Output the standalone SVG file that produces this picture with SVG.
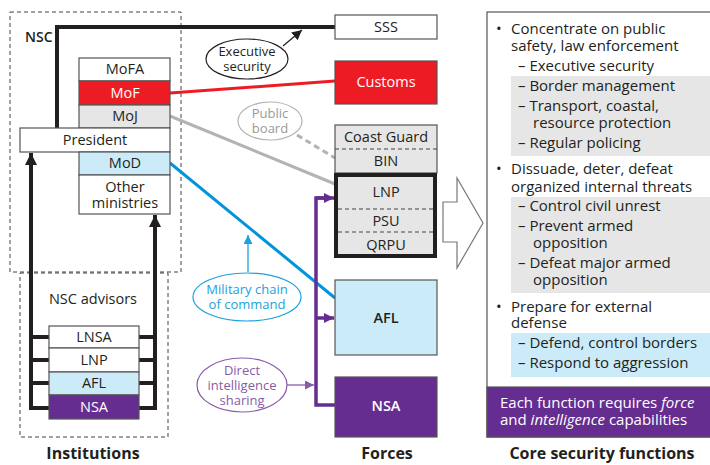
<svg xmlns="http://www.w3.org/2000/svg" width="710" height="465" viewBox="0 0 710 465">
<defs>
<style>
text{font-family:"Open Sans","Noto Sans","DejaVu Sans",sans-serif;fill:#231F20;}
.lbl{font-size:14.5px;text-anchor:middle;}
.w{fill:#fff;}
.sm{font-size:13px;text-anchor:middle;}
.ttl{font-size:16px;font-weight:bold;text-anchor:middle;}
.rt{font-size:15px;}
.box{stroke:#555;stroke-width:1.2;}
.dash{fill:none;stroke:#444;stroke-width:1;stroke-dasharray:4,3;}
.thick{fill:none;stroke:#231F20;stroke-width:4;}
</style>
<marker id="ab" viewBox="0 0 10 10" refX="10" refY="5" markerWidth="10" markerHeight="10" markerUnits="userSpaceOnUse" orient="auto"><path d="M0,0L10,5L0,10z" fill="#231F20"/></marker>
<marker id="abig" viewBox="0 0 10 10" refX="10" refY="5" markerWidth="3" markerHeight="3" orient="auto"><path d="M0,0L10,5L0,10z" fill="#231F20"/></marker>
<marker id="ap" viewBox="0 0 10 10" refX="10" refY="5" markerWidth="3" markerHeight="3" orient="auto"><path d="M0,0L10,5L0,10z" fill="#662D91"/></marker>
<marker id="apt" viewBox="0 0 10 10" refX="10" refY="5" markerWidth="9" markerHeight="9" markerUnits="userSpaceOnUse" orient="auto"><path d="M0,0L10,5L0,10z" fill="#8A5BA8"/></marker>
<marker id="abl" viewBox="0 0 10 10" refX="10" refY="5" markerWidth="9" markerHeight="9" markerUnits="userSpaceOnUse" orient="auto"><path d="M0,0L10,5L0,10z" fill="#1BA1DB"/></marker>
</defs>
<rect width="710" height="465" fill="#fff"/>

<g id="nsc-frame">
<rect x="10" y="12" width="171" height="260" class="dash"/>
<text x="25" y="42" style="font-size:14px;font-weight:600">NSC</text>
</g>
<g id="advisors-frame">
<rect x="20" y="273" width="148" height="164" class="dash"/>
<text x="93" y="304" class="lbl">NSC advisors</text>
</g>

<g id="connectors">
<polyline points="57,128 57,27 335,27" class="thick"/>
<line x1="283" y1="46" x2="302" y2="30" stroke="#231F20" stroke-width="1.2" marker-end="url(#ab)"/>
<line x1="170" y1="93" x2="335" y2="81" stroke="#ED1C24" stroke-width="3"/>
<line x1="170" y1="116" x2="335" y2="184" stroke="#B3B3B3" stroke-width="3"/>
<line x1="297" y1="135" x2="335" y2="158" stroke="#B3B3B3" stroke-width="3" stroke-dasharray="6,4"/>
<line x1="170" y1="163" x2="335" y2="298" stroke="#0095DA" stroke-width="3"/>
<line x1="248" y1="272" x2="248" y2="235" stroke="#1BA1DB" stroke-width="1.3" marker-end="url(#abl)"/>
<polyline points="335,405 316,405 316,198 326,198" fill="none" stroke="#662D91" stroke-width="3.5"/>
<line x1="316" y1="198" x2="334" y2="198" stroke="#662D91" stroke-width="3.5" marker-end="url(#ap)"/>
<line x1="316" y1="318" x2="334" y2="318" stroke="#662D91" stroke-width="3.5" marker-end="url(#ap)"/>
<line x1="287" y1="385" x2="314" y2="385" stroke="#8A5BA8" stroke-width="1.3" marker-end="url(#apt)"/>
<polyline points="49,408 31,408 31,165" class="thick"/>
<line x1="31" y1="166" x2="31" y2="153" stroke="#231F20" stroke-width="4" marker-end="url(#abig)"/>
<polyline points="139,408 155,408 155,226" class="thick"/>
<line x1="155" y1="228" x2="155" y2="215" stroke="#231F20" stroke-width="4" marker-end="url(#abig)"/>
<line x1="31" y1="337" x2="49" y2="337" class="thick"/>
<line x1="31" y1="360" x2="49" y2="360" class="thick"/>
<line x1="31" y1="383" x2="49" y2="383" class="thick"/>
<line x1="139" y1="337" x2="155" y2="337" class="thick"/>
<line x1="139" y1="360" x2="155" y2="360" class="thick"/>
<line x1="139" y1="383" x2="155" y2="383" class="thick"/>
</g>

<g id="MoFA"><rect x="79" y="58" width="91" height="23" fill="#fff" class="box"/><text x="125" y="74" class="lbl">MoFA</text></g>
<g id="MoF"><rect x="79" y="81" width="91" height="24" fill="#ED1C24" class="box"/><text x="125" y="98" class="lbl w">MoF</text></g>
<g id="MoJ"><rect x="79" y="105" width="91" height="23" fill="#E6E6E6" class="box"/><text x="125" y="121" class="lbl">MoJ</text></g>
<g id="President"><rect x="20" y="128" width="150" height="24" fill="#fff" class="box"/><text x="95" y="145" class="lbl">President</text></g>
<g id="MoD"><rect x="79" y="152" width="91" height="23" fill="#CCEBF8" class="box"/><text x="125" y="168" class="lbl">MoD</text></g>
<g id="Other"><rect x="79" y="175" width="91" height="39" fill="#fff" class="box"/><text x="125" y="192" class="lbl">Other</text><text x="125" y="208" class="lbl">ministries</text></g>

<g id="adv-LNSA"><rect x="49" y="326" width="90" height="22" fill="#fff" class="box"/><text x="94" y="342" class="lbl">LNSA</text></g>
<g id="adv-LNP"><rect x="49" y="348" width="90" height="24" fill="#fff" class="box"/><text x="94" y="365" class="lbl">LNP</text></g>
<g id="adv-AFL"><rect x="49" y="372" width="90" height="23" fill="#CCEBF8" class="box"/><text x="94" y="388" class="lbl">AFL</text></g>
<g id="adv-NSA"><rect x="49" y="395" width="90" height="24" fill="#662D91" class="box"/><text x="94" y="412" class="lbl w">NSA</text></g>

<g id="exec-security"><ellipse cx="247" cy="59" rx="41" ry="20" fill="#fff" stroke="#231F20" stroke-width="1.2"/><text x="247" y="56" class="sm">Executive</text><text x="247" y="71" class="sm">security</text></g>
<g id="public-board"><ellipse cx="270" cy="121" rx="32" ry="19" fill="#fff" stroke="#B3B3B3" stroke-width="1.2"/><text x="270" y="118" class="sm" style="fill:#999">Public</text><text x="270" y="133" class="sm" style="fill:#999">board</text></g>
<g id="military-chain"><ellipse cx="247" cy="297" rx="54" ry="24" fill="#fff" stroke="#1BA1DB" stroke-width="1.2"/><text x="247" y="294" class="sm" style="fill:#1BA1DB">Military chain</text><text x="247" y="309" class="sm" style="fill:#1BA1DB">of command</text></g>
<g id="direct-intel"><ellipse cx="242" cy="385" rx="45" ry="27" fill="#fff" stroke="#8A5BA8" stroke-width="1.2"/><text x="242" y="375" class="sm" style="fill:#8A5BA8">Direct</text><text x="242" y="390" class="sm" style="fill:#8A5BA8">intelligence</text><text x="242" y="405" class="sm" style="fill:#8A5BA8">sharing</text></g>

<g id="SSS"><rect x="335" y="15" width="102" height="24" fill="#fff" class="box"/><text x="386" y="32" class="lbl">SSS</text></g>
<g id="Customs"><rect x="335" y="61" width="102" height="43" fill="#ED1C24" class="box"/><text x="386" y="87" class="lbl w">Customs</text></g>
<g id="CoastGuard-BIN"><rect x="335" y="125" width="102" height="48" fill="#E6E6E6" class="box"/><line x1="335" y1="149" x2="437" y2="149" class="dash"/><text x="386" y="142" class="lbl">Coast Guard</text><text x="386" y="166" class="lbl">BIN</text></g>
<g id="LNP-PSU-QRPU"><rect x="336" y="175" width="99" height="81" fill="#E6E6E6" stroke="#231F20" stroke-width="4"/><line x1="338" y1="209" x2="433" y2="209" class="dash"/><line x1="338" y1="232" x2="433" y2="232" class="dash"/><text x="386" y="197" class="lbl">LNP</text><text x="386" y="226" class="lbl">PSU</text><text x="386" y="250" class="lbl">QRPU</text></g>
<g id="AFL"><rect x="335" y="280" width="102" height="75" fill="#CCEBF8" class="box"/><text x="386" y="323" class="lbl" style="font-weight:600">AFL</text></g>
<g id="NSA"><rect x="335" y="377" width="102" height="60" fill="#662D91" class="box"/><text x="386" y="411" class="lbl w" style="font-weight:600">NSA</text></g>

<g id="big-arrow"><path d="M443,202L457,202L457,178L483,223L457,268L457,242L443,242z" fill="#fff" stroke="#777" stroke-width="1.2"/></g>

<g id="core-functions">
<rect x="487" y="12" width="230" height="425" fill="#fff" class="box"/>
<rect x="511" y="76" width="199" height="80" fill="#E6E6E6"/>
<rect x="511" y="197" width="199" height="96" fill="#E6E6E6"/>
<rect x="511" y="333" width="199" height="44" fill="#CCEBF8"/>
<rect x="487" y="387" width="230" height="50" fill="#662D91" class="box"/>
<text x="496" y="34" class="rt">•</text>
<text x="511" y="34" class="rt">Concentrate on public</text>
<text x="511" y="51" class="rt">safety, law enforcement</text>
<text x="518" y="71" class="rt">– Executive security</text>
<text x="518" y="91" class="rt">– Border management</text>
<text x="518" y="111" class="rt">– Transport, coastal,</text>
<text x="533" y="128" class="rt">resource protection</text>
<text x="518" y="148" class="rt">– Regular policing</text>
<text x="496" y="174" class="rt">•</text>
<text x="511" y="174" class="rt">Dissuade, deter, defeat</text>
<text x="511" y="192" class="rt">organized internal threats</text>
<text x="518" y="211" class="rt">– Control civil unrest</text>
<text x="518" y="231" class="rt">– Prevent armed</text>
<text x="533" y="248" class="rt">opposition</text>
<text x="518" y="268" class="rt">– Defeat major armed</text>
<text x="533" y="285" class="rt">opposition</text>
<text x="496" y="312" class="rt">•</text>
<text x="511" y="312" class="rt">Prepare for external</text>
<text x="511" y="328" class="rt">defense</text>
<text x="518" y="348" class="rt">– Defend, control borders</text>
<text x="518" y="368" class="rt">– Respond to aggression</text>
<text x="500" y="408" class="rt w">Each function requires <tspan font-style="italic">force</tspan></text>
<text x="500" y="425" class="rt w">and <tspan font-style="italic">intelligence</tspan> capabilities</text>
</g>

<g id="titles">
<text x="93" y="459" class="ttl">Institutions</text>
<text x="387" y="459" class="ttl">Forces</text>
<text x="602" y="459" class="ttl">Core security functions</text>
</g>
</svg>
